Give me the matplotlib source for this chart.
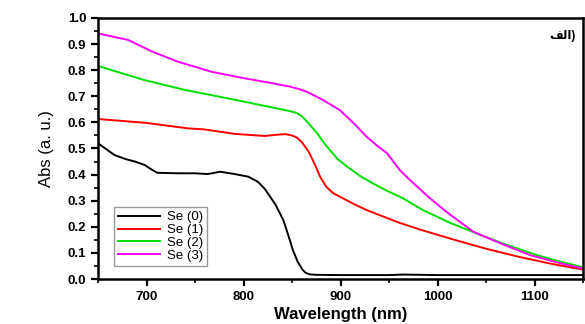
import matplotlib
matplotlib.use("Agg")
from matplotlib import pyplot as plt
from matplotlib.ticker import MultipleLocator

plt.rcParams["font.family"] = ["Liberation Sans", "DejaVu Sans"]

# 读取的数据 (nm, a.u.)
wl_se0 = [650, 667, 678, 688, 698, 705, 711, 732, 750, 763, 776, 791, 805, 815, 822,
          833, 841, 846, 851, 856, 861, 864, 868, 875, 900, 950, 965, 1000, 1050, 1100,
          1150]
abs_se0 = [0.52, 0.475, 0.46, 0.45, 0.437, 0.42, 0.407, 0.405, 0.405, 0.402, 0.411,
           0.402, 0.392, 0.372, 0.345, 0.285, 0.226, 0.17, 0.11, 0.065, 0.035, 0.024,
           0.018, 0.016, 0.015, 0.015, 0.017, 0.015, 0.015, 0.015, 0.015]

wl_se1 = [650, 700, 743, 760, 791, 822, 835, 843, 850, 855, 860, 864, 868, 874, 879,
          885, 892, 902, 915, 927, 945, 961, 985, 1013, 1051, 1085, 1119, 1150]
abs_se1 = [0.613, 0.598, 0.577, 0.573, 0.556, 0.548, 0.553, 0.555, 0.55, 0.542, 0.525,
           0.505, 0.482, 0.435, 0.392, 0.355, 0.33, 0.31, 0.285, 0.264, 0.238, 0.215,
           0.186, 0.155, 0.115, 0.084, 0.057, 0.036]

wl_se2 = [650, 698, 740, 784, 830, 848, 855, 860, 864, 869, 876, 882, 889, 897, 907,
          920, 933, 948, 964, 985, 1013, 1044, 1072, 1102, 1125, 1150]
abs_se2 = [0.816, 0.762, 0.724, 0.692, 0.657, 0.643, 0.636, 0.624, 0.609, 0.588, 0.558,
           0.526, 0.494, 0.46, 0.43, 0.395, 0.367, 0.338, 0.31, 0.264, 0.215, 0.169,
           0.13, 0.092, 0.068, 0.045]

wl_se3 = [650, 681, 706, 732, 767, 801, 830, 848, 857, 865, 873, 882, 890, 899, 908,
          917, 927, 938, 948, 961, 970, 979, 992, 1010, 1037, 1064, 1095, 1126, 1150]
abs_se3 = [0.941, 0.916, 0.871, 0.833, 0.794, 0.769, 0.75, 0.737, 0.728, 0.718, 0.703,
           0.686, 0.668, 0.648, 0.617, 0.584, 0.545, 0.51, 0.482, 0.418, 0.385, 0.354,
           0.31, 0.255, 0.181, 0.138, 0.092, 0.061, 0.04]

labels = ["Se (0)", "Se (1)", "Se (2)", "Se (3)"]
colors = ["black", "#ff0000", "#00e000", "#ff00ff"]

fig = plt.figure(figsize=(5.85, 3.24), dpi=100)
ax = fig.add_axes([98 / 585, 1 - 279 / 324, 485 / 585, 261 / 324])

series = [(wl_se0, abs_se0), (wl_se1, abs_se1), (wl_se2, abs_se2), (wl_se3, abs_se3)]
for (x, y), lab, c in zip(series, labels, colors):
    ax.plot(x, y, color=c, lw=1.4, label=lab)

ax.set_xlim(650, 1150)
ax.set_ylim(0, 1.0)
ax.xaxis.set_major_locator(MultipleLocator(100))
ax.xaxis.set_minor_locator(MultipleLocator(50))
ax.yaxis.set_major_locator(MultipleLocator(0.1))
ax.yaxis.set_minor_locator(MultipleLocator(0.05))
ax.tick_params(which="major", direction="out", length=5, width=1.6, labelsize=9.5)
ax.tick_params(which="minor", direction="out", length=3, width=1.2)
for lbl in ax.get_xticklabels() + ax.get_yticklabels():
    lbl.set_fontweight("bold")
for s in ax.spines.values():
    s.set_linewidth(1.8)

ax.set_xlabel("Wavelength (nm)", fontsize=12, fontweight="bold", labelpad=3)
ax.set_ylabel("Abs (a. u.)", fontsize=12, labelpad=10)

leg = ax.legend(loc="lower left", bbox_to_anchor=(0.02, 0.025), fontsize=9.5,
                frameon=True, fancybox=False, edgecolor="gray", handlelength=3.2,
                labelspacing=0.05, borderpad=0.3, handletextpad=0.5)
leg.get_frame().set_linewidth(1.0)

# برچسب (الف) - presentation forms, visual order
ax.text(0.985, 0.955, "\uFED2\uFEDF\uFE8D)", transform=ax.transAxes, ha="right",
        va="top", fontsize=8.5, fontweight="bold")

fig.savefig("out.png", dpi=100)
